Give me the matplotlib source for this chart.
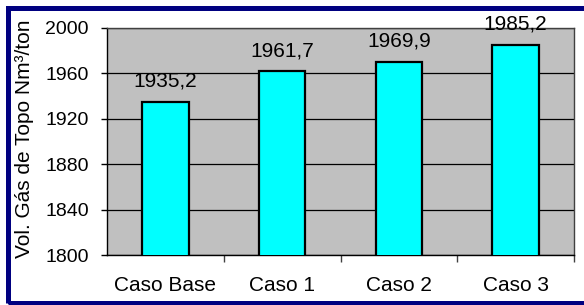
import matplotlib.pyplot as plt
from matplotlib.patches import Rectangle

# dados
casos = ['Caso Base', 'Caso 1', 'Caso 2', 'Caso 3']
vol_gas = [1935.2, 1961.7, 1969.9, 1985.2]
rotulos = ['1935,2', '1961,7', '1969,9', '1985,2']
y_ticks = [1800, 1840, 1880, 1920, 1960, 2000]

plt.rcParams['font.family'] = ['Liberation Sans', 'DejaVu Sans']

fig = plt.figure(figsize=(5.84, 3.05), dpi=100)
ax = fig.add_axes([107 / 584, 1 - 255 / 305, 467 / 584, 227 / 305])

# moldura azul em volta do grafico
fig.patches.append(Rectangle((8 / 584, 1 - 302.5 / 305), 590 / 584, (302.5 - 7.5) / 305,
                             transform=fig.transFigure, fill=False,
                             edgecolor='#000080', linewidth=3.6, clip_on=False))

ax.set_facecolor('#C0C0C0')
x = range(len(casos))
ax.bar(x, vol_gas, width=0.4, color='#00FFFF', edgecolor='black', linewidth=1.6, zorder=3)

for i, (v, r) in enumerate(zip(vol_gas, rotulos)):
    ax.annotate(r, (i, v), xytext=(0, 11), textcoords='offset points',
                ha='center', va='baseline', fontsize=15, zorder=4)

ax.set_ylim(1800, 2000)
ax.set_xlim(-0.5, 3.5)
ax.set_yticks(y_ticks)
ax.yaxis.grid(True, color='black', linewidth=0.9)
ax.set_axisbelow(True)

ax.set_xticks(list(x))
ax.set_xticklabels(casos, fontsize=15)
ax.set_xticks([0.5, 1.5, 2.5, 3.5], minor=True)
ax.tick_params(axis='x', which='major', length=0, pad=15)
ax.tick_params(axis='x', which='minor', length=5, width=1, color='#404040')
ax.tick_params(axis='y', labelsize=14, length=4, width=1, pad=9)

for s in ['left', 'bottom']:
    ax.spines[s].set_color('black')
    ax.spines[s].set_linewidth(1)
for s in ['top', 'right']:
    ax.spines[s].set_color('#404040')
    ax.spines[s].set_linewidth(1)

ax.set_ylabel('Vol. Gás de Topo Nm³/ton', fontsize=15)
ax.yaxis.set_label_coords(-0.156, 0.51)

fig.savefig('out.png', dpi=100)
